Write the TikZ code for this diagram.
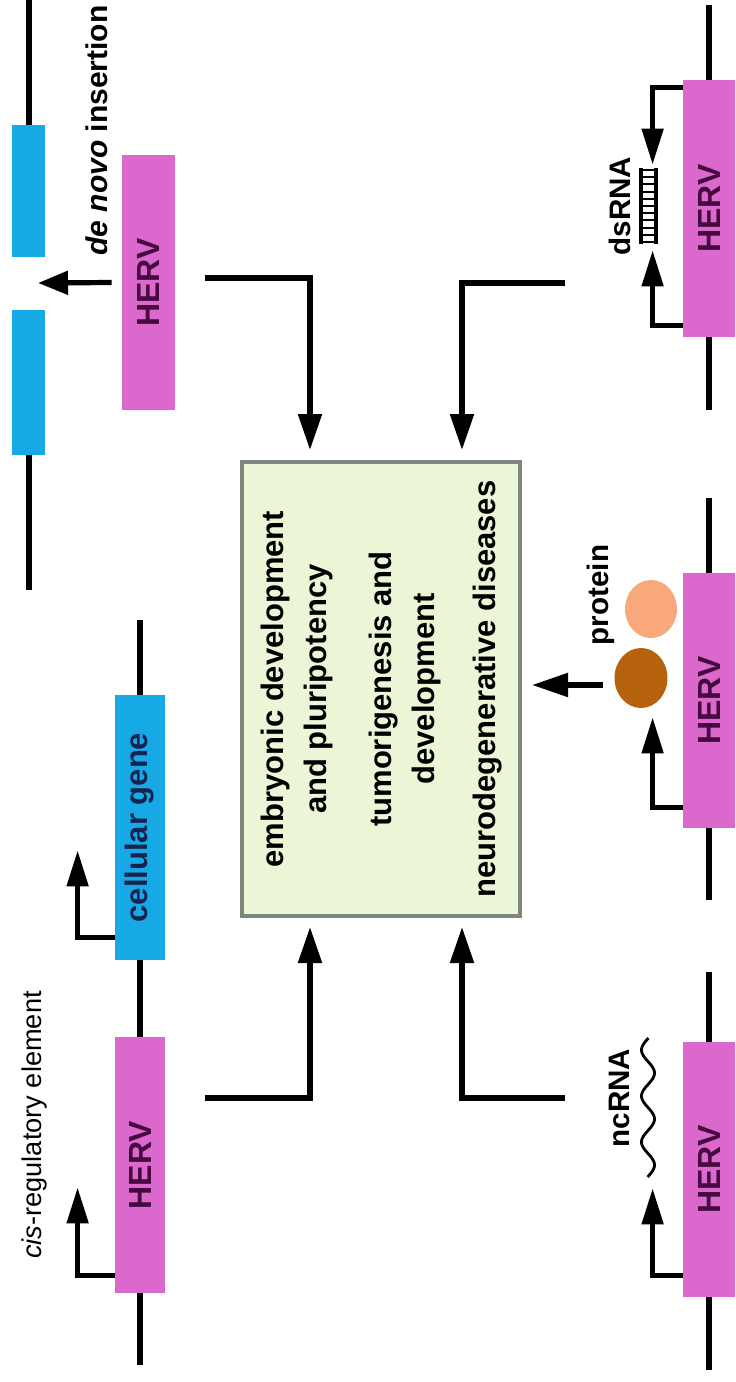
\documentclass[tikz,border=0pt]{standalone}
\usepackage{fontspec}
\usepackage{graphicx}
\setmainfont{Liberation Sans}
\usetikzlibrary{arrows.meta,calc,shapes.geometric}

\definecolor{hervpink}{HTML}{DA68CD}
\definecolor{hervtext}{HTML}{45093F}
\definecolor{geneblue}{HTML}{17A9E6}
\definecolor{genetext}{HTML}{17234F}
\definecolor{boxgreen}{HTML}{EAF6D6}
\definecolor{boxgray}{HTML}{7E877E}
\definecolor{protdark}{HTML}{B7620D}
\definecolor{protlight}{HTML}{F8A87A}

\begin{document}
\begin{tikzpicture}[x=0.5pt,y=-0.5pt,
  dna/.style={line width=3pt, black},
  conn/.style={line width=2.6pt, -{Triangle[length=18pt,width=11.5pt]}},
  prom/.style={line width=2.5pt, -{Triangle[length=18pt,width=10.5pt]}},
  herv/.style={rectangle, fill=hervpink, inner sep=0pt, minimum width=26pt,
    minimum height=128pt, text=hervtext, font=\bfseries\fontsize{16}{18}\selectfont},
  gene/.style={rectangle, fill=geneblue, inner sep=0pt, minimum width=25pt,
    text=genetext, font=\bfseries\fontsize{15.5}{18}\selectfont},
  lbl/.style={inner sep=0pt, rotate=90, font=\bfseries\fontsize{14.8}{17}\selectfont},
  boxtxt/.style={inner sep=0pt, rotate=90, align=center,
    font=\bfseries\fontsize{15.5}{21.5}\selectfont},
  prot/.style={ellipse, inner sep=0pt, draw=none},
]
\useasboundingbox (0,0) rectangle (735,1382);

% ---------- central outcome box ----------
\node[draw=boxgray, fill=boxgreen, line width=2pt, minimum width=139pt,
      minimum height=227pt, inner sep=0pt] (box) at (381,689) {};
\node[boxtxt] (t1) at (297,689) {embryonic development\\and pluripotency};
\node[boxtxt] (t2) at (405,689) {tumorigenesis and\\development};
\node[boxtxt] (t3) at (488,689) {neurodegenerative diseases};

% ---------- de novo insertion ----------
\node[gene, minimum width=16.5pt, minimum height=66pt] (g1) at (28.5,191) {};
\node[gene, minimum width=16.5pt, minimum height=72.5pt] (g2) at (28.5,382.5) {};
\draw[dna] (g1.north) -- ++(0,-125);
\draw[dna] (g2.south) -- ++(0,135);
\node[herv, minimum width=26.5pt, minimum height=127.5pt] (h1) at (148.5,282.5) {\rotatebox{90}{HERV}};
\coordinate (gap) at (38,283);
\draw[conn, -{Triangle[length=15pt,width=11.5pt]}] ([xshift=-5pt]h1.west) -- (gap);
\node[lbl, anchor=base west, font=\bfseries\fontsize{15}{18}\selectfont] (dn) at (107,256) {\textit{de novo} insertion};

% ---------- cis-regulatory element ----------
\node[gene, minimum height=132.5pt] (g3) at (140,827.5) {\rotatebox{90}{cellular gene}};
\node[herv, minimum width=25pt] (h2) at (140,1165) {\rotatebox{90}{HERV}};
\draw[dna] (g3.north) -- ++(0,-75);
\draw[dna] (g3.south) -- (h2.north);
\draw[dna] (h2.south) -- ++(0,72);
\draw[prom] ([yshift=11.5pt]g3.south west) -- ++(-37,0) -- ++(0,-87);
\draw[prom] ([yshift=9pt]h2.south west) -- ++(-37,0) -- ++(0,-88);
\node[lbl, font=\fontsize{13.6}{16}\selectfont] (cis) at (34,1125) {\textit{cis}-regulatory element};

% ---------- dsRNA ----------
\node[herv, minimum height=128.5pt] (h3) at (709,208.5) {\rotatebox{90}{HERV}};
\draw[dna] (h3.north) -- ++(0,-75);
\draw[dna] (h3.south) -- ++(0,73);
\draw[prom] ([yshift=-4pt]h3.north west) -- ++(-30,0) -- ++(0,77);
\draw[prom] ([yshift=6pt]h3.south west) -- ++(-30,0) -- ++(0,-75);
% double-stranded ladder
\draw[line width=1.6pt] (641,168) -- (641,244) (656,168) -- (656,244);
\foreach \k in {0,...,10} \draw[line width=1pt] (641,{170+7.2*\k}) -- (656,{170+7.2*\k});
\node[lbl] (ds) at (620,206) {dsRNA};

% ---------- protein ----------
\node[herv, minimum height=127.5pt] (h4) at (709,700.5) {\rotatebox{90}{HERV}};
\draw[dna] (h4.north) -- ++(0,-75);
\draw[dna] (h4.south) -- ++(0,72);
\draw[prom] ([yshift=10.5pt]h4.south west) -- ++(-30,0) -- ++(0,-90);
\node[prot, fill=protlight, minimum width=26pt, minimum height=29pt] (p2) at (651,609) {};
\node[prot, fill=protdark, minimum width=26.5pt, minimum height=30pt] (p1) at (641,678) {};
\node[lbl] (pr) at (601,595) {protein};
\coordinate (pa) at (603,685);
\draw[conn, shorten >=5pt] (pa) -- (box.east |- pa);

% ---------- ncRNA ----------
\node[herv, minimum height=127.5pt] (h5) at (709,1169.5) {\rotatebox{90}{HERV}};
\draw[dna] (h5.north) -- ++(0,-70);
\draw[dna] (h5.south) -- ++(0,73);
\draw[prom] ([yshift=11pt]h5.south west) -- ++(-30,0) -- ++(0,-87);
% wavy non-coding transcript, period 46 units
\draw[line width=1.4pt] plot[domain=0:139, samples=120, smooth]
  ({648+6.5*sin(7.826*(\x-12)-90)}, {1038+\x});
\node[lbl] (nc) at (619,1098) {ncRNA};

% ---------- connectors into the box ----------
\coordinate (c1) at (205,278);
\coordinate (c2) at (565,283);
\coordinate (c3) at (205,1098);
\coordinate (c4) at (565,1098);
\draw[conn, shorten >=5pt] (c1) -| ([xshift=-35.5pt]box.north);
\draw[conn, shorten >=5pt] (c2) -| ([xshift=40.5pt]box.north);
\draw[conn, shorten >=4.5pt] (c3) -| ([xshift=-35.5pt]box.south);
\draw[conn, shorten >=4.5pt] (c4) -| ([xshift=40.5pt]box.south);
\end{tikzpicture}
\end{document}
